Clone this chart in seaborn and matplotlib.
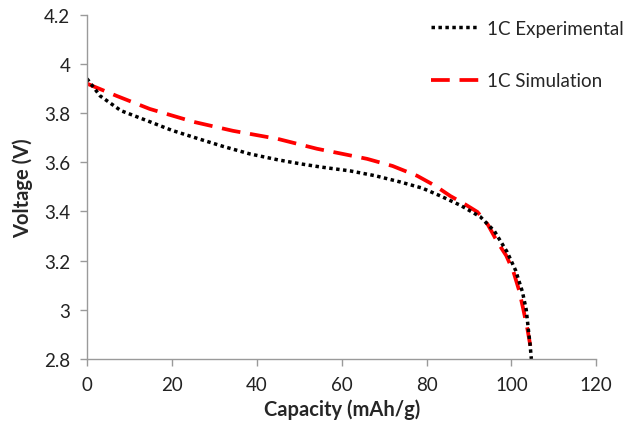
import matplotlib
matplotlib.use("Agg")
import matplotlib.pyplot as plt
import seaborn as sns
import pandas as pd

# Experimental (1C)
exp_cap = [0, 3.1, 8, 14.8, 20, 26.4, 32, 38.4, 45, 50.2, 55, 62, 68, 73.8, 79, 83.3, 88, 92.7, 96, 99, 101, 102.6, 103.5, 104, 104.4, 104.7]
exp_v = [3.94, 3.87, 3.81, 3.765, 3.73, 3.695, 3.665, 3.634, 3.61, 3.594, 3.581, 3.565, 3.545, 3.52, 3.495, 3.463, 3.425, 3.378, 3.32, 3.235, 3.16, 3.073, 3.00, 2.92, 2.86, 2.80]
# Simulation (1C)
sim_cap = [0, 7, 14.8, 25, 34.4, 45, 54.2, 60, 66, 72, 77.8, 82, 85.6, 89, 92, 94.5, 96.7, 98.8, 100.5, 101.8, 102.8, 103.8, 104.7]
sim_v = [3.92, 3.87, 3.817, 3.765, 3.728, 3.695, 3.655, 3.635, 3.614, 3.585, 3.545, 3.505, 3.463, 3.43, 3.398, 3.345, 3.276, 3.22, 3.154, 3.08, 3.003, 2.92, 2.83]

xticks = [0, 20, 40, 60, 80, 100, 120]
yticks = [2.8, 3.0, 3.2, 3.4, 3.6, 3.8, 4.0, 4.2]
ytick_labels = ["2.8", "3", "3.2", "3.4", "3.6", "3.8", "4", "4.2"]

sns.set_theme(style="white")
plt.rcParams['font.family'] = ['Lato', 'DejaVu Sans']

fig = plt.figure(figsize=(6.35, 4.27), dpi=100)
ax = fig.add_axes([0.137, 0.157, 0.802, 0.806])

df_exp = pd.DataFrame({"Capacity": exp_cap, "Voltage": exp_v})
df_sim = pd.DataFrame({"Capacity": sim_cap, "Voltage": sim_v})

sns.lineplot(data=df_sim, x="Capacity", y="Voltage", ax=ax, color="#ff0000",
             linewidth=2.7, label="1C Simulation", sort=False)
ax.lines[-1].set_dashes((5, 2.6))
sns.lineplot(data=df_exp, x="Capacity", y="Voltage", ax=ax, color="black",
             linewidth=2.5, label="1C Experimental", sort=False)
ax.lines[-1].set_dashes((1, 1.0))

ax.set_xlim(0, 120)
ax.set_ylim(2.8, 4.2)
ax.set_xticks(xticks)
ax.set_yticks(yticks)
ax.set_yticklabels(ytick_labels)
ax.tick_params(axis="both", labelsize=13.5, colors="#222222", length=5, width=1,
               direction="out", bottom=True, left=True, color="#9a9a9a", pad=7)
for s in ["top", "right"]:
    ax.spines[s].set_visible(False)
for s in ["left", "bottom"]:
    ax.spines[s].set_color("#9a9a9a")
    ax.spines[s].set_linewidth(1)

ax.set_xlabel("Capacity (mAh/g)", fontsize=14.5, fontweight="bold", labelpad=4)
ax.set_ylabel("Voltage (V)", fontsize=14.5, fontweight="bold", labelpad=8)

handles, labels = ax.get_legend_handles_labels()
order = [1, 0]
leg = ax.legend([handles[i] for i in order], [labels[i] for i in order],
                loc="upper right", bbox_to_anchor=(1.087, 1.035), frameon=False,
                fontsize=13.5, handlelength=2.6, labelspacing=1.9, handletextpad=0.4)

fig.savefig("out.png", dpi=100)
